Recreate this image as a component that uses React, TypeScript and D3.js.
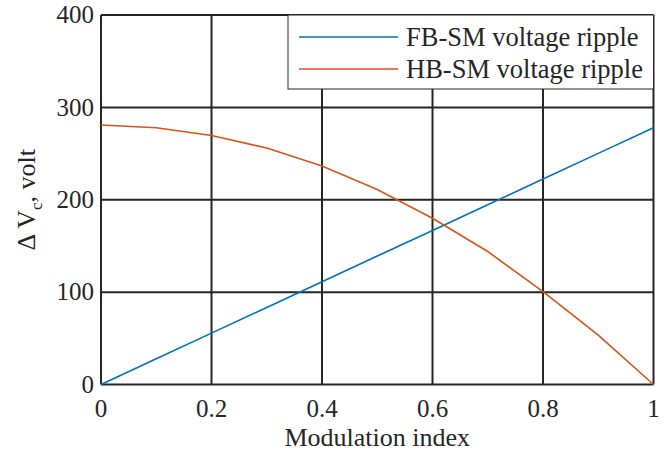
import React, { useEffect } from 'react';
import * as d3 from 'd3';

const modIndex = [0, 0.1, 0.2, 0.3, 0.4, 0.5, 0.6, 0.7, 0.8, 0.9, 1];
const fbRipple = [0, 27.8, 55.6, 83.4, 111.2, 139, 166.8, 194.6, 222.4, 250.2, 278];
const hbRipple = [281, 278, 269.5, 256, 236.5, 211, 180, 144, 100.5, 53.5, 0];
const xTicks = [0, 0.2, 0.4, 0.6, 0.8, 1];
const yTicks = [0, 100, 200, 300, 400];

const series = [
  { name: 'FB-SM voltage ripple', color: '#0072BD', values: fbRipple },
  { name: 'HB-SM voltage ripple', color: '#D95319', values: hbRipple },
];

const width = 672;
const height = 453;
const margin = { top: 15, right: 18.5, bottom: 68.5, left: 101 };
const font = '"Liberation Serif", "Times New Roman", serif';
const axisColor = '#262626';

export default function App() {
  useEffect(() => {
    document.body.style.margin = '0';
  }, []);

  const x = d3.scaleLinear()
    .domain([0, 1])
    .range([margin.left, width - margin.right]);
  const y = d3.scaleLinear()
    .domain([0, 400])
    .range([height - margin.bottom, margin.top]);

  const line = d3.line<number>()
    .x((d, i) => x(modIndex[i]))
    .y(d => y(d));

  const legendX = 288;
  const legendY = 15;

  return (
    <svg width={width} height={height} style={{ display: 'block', position: 'absolute', left: 0, top: 0 }}>
      <rect x={0} y={0} width={width} height={height} fill="#fff" />

      {/* grid */}
      {xTicks.map(t => (
        <line key={'gx' + t} x1={x(t)} x2={x(t)} y1={y(0)} y2={y(400)}
          stroke={axisColor} strokeWidth={2} />
      ))}
      {yTicks.map(t => (
        <line key={'gy' + t} x1={x(0)} x2={x(1)} y1={y(t)} y2={y(t)}
          stroke={axisColor} strokeWidth={2} />
      ))}

      {series.map(s => (
        <path key={s.name} d={line(s.values) || ''} fill="none"
          stroke={s.color} strokeWidth={1.6} />
      ))}

      {/* tick labels */}
      <g fontFamily={font} fontSize={25} fill={axisColor}>
        {yTicks.map(t => (
          <text key={'ly' + t} x={x(0) - 7} y={y(t)} dy="0.33em" textAnchor="end">{t}</text>
        ))}
        {xTicks.map(t => (
          <text key={'lx' + t} x={x(t)} y={y(0) + 32} textAnchor="middle">{t}</text>
        ))}
      </g>

      <text x={(x(0) + x(1)) / 2} y={446} textAnchor="middle"
        fontFamily={font} fontSize={26} fill={axisColor}>Modulation index</text>

      <text transform={`translate(35, ${(y(0) + y(400)) / 2}) rotate(-90)`}
        textAnchor="middle" fontFamily={font} fontSize={26} fill={axisColor}>
        Δ V<tspan fontSize={17} dy={7}>c</tspan><tspan dy={-7}>, volt</tspan>
      </text>

      {/* legend */}
      <g>
        <rect x={legendX} y={legendY} width={x(1) - legendX} height={74}
          fill="#fff" stroke={axisColor} strokeWidth={1} />
        {series.map((s, i) => (
          <g key={'lg' + s.name} transform={`translate(${legendX}, ${legendY + 22 + i * 32})`}>
            <line x1={11} x2={110} y1={0} y2={0} stroke={s.color} strokeWidth={1.6} />
            <text x={118} y={0} dy="0.33em" fontFamily={font} fontSize={26.5} fill={axisColor}>{s.name}</text>
          </g>
        ))}
      </g>
    </svg>
  );
}
